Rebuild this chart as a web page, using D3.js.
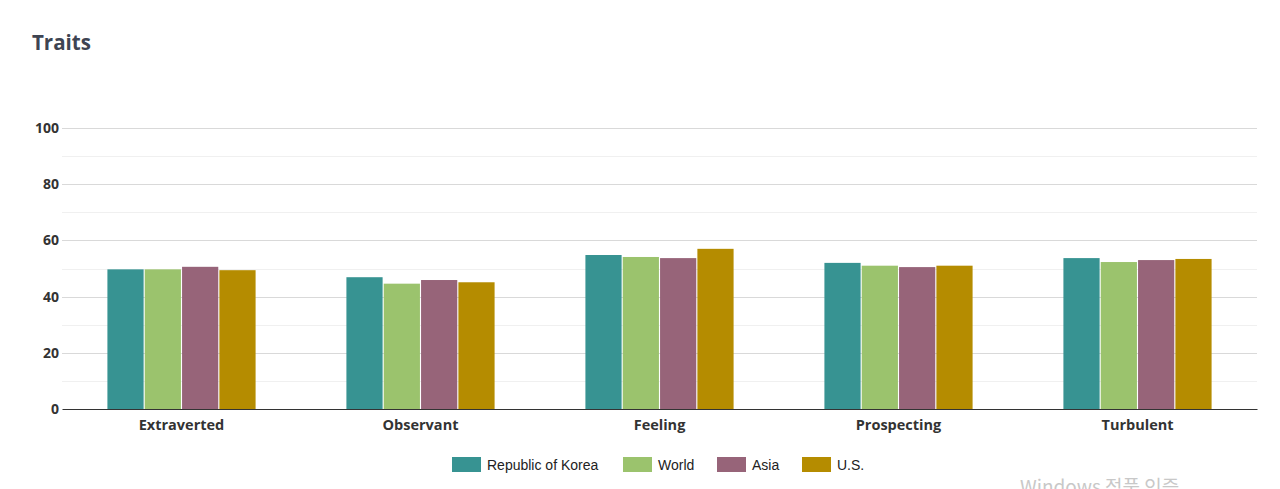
<!DOCTYPE html>
<html><head><meta charset="utf-8">
<script src="https://cdn.jsdelivr.net/npm/d3@7"></script>
<style>body{margin:0;background:#fff;}svg{display:block;}</style>
</head><body>
<svg id="chart" width="1280" height="489"></svg>
<script>
const categories = ["Extraverted","Observant","Feeling","Prospecting","Turbulent"];
const seriesNames = ["Republic of Korea","World","Asia","U.S."];
const korea = [49.7, 46.9, 54.8, 52.0, 53.7];
const world = [49.7, 44.6, 54.1, 51.0, 52.3];
const asia  = [50.6, 45.9, 53.7, 50.5, 53.0];
const us    = [49.4, 45.1, 57.0, 51.0, 53.4];
const yTicks = [0, 20, 40, 60, 80, 100];
const colors = ["#379392", "#9bc36d", "#976479", "#b58c00"];
const seriesValues = [korea, world, asia, us];

(function () {
const svg = d3.select("#chart");
const pLeft = 62, pRight = 1257, pTop = 128, pBottom = 409;

const x = d3.scaleBand().domain(categories).range([pLeft, pRight]).paddingInner(0.38).paddingOuter(0.19);
const xs = d3.scaleBand().domain(seriesNames).range([0, x.bandwidth()]).paddingInner(0.03);
const y = d3.scaleLinear().domain([0, 100]).range([pBottom, pTop]);

// minor grid
svg.append("g").selectAll("line").data(d3.range(10, 100, 20)).join("line")
  .attr("x1", pLeft).attr("x2", pRight)
  .attr("y1", d => Math.round(y(d)) + 0.5).attr("y2", d => Math.round(y(d)) + 0.5)
  .attr("stroke", "#f0f0f0").attr("stroke-width", 1);
// major grid
svg.append("g").selectAll("line").data(yTicks.filter(d => d > 0)).join("line")
  .attr("x1", pLeft).attr("x2", pRight)
  .attr("y1", d => Math.round(y(d)) + 0.5).attr("y2", d => Math.round(y(d)) + 0.5)
  .attr("stroke", "#d9d9d9").attr("stroke-width", 1);

// y axis labels
const yAxis = d3.axisLeft(y).tickValues(yTicks).tickSize(0).tickPadding(3);
const gy = svg.append("g").attr("transform", `translate(${pLeft},0)`).call(yAxis);
gy.select(".domain").remove();
gy.selectAll("text").attr("font-family", "'Open Sans', sans-serif").attr("font-weight", "bold")
  .attr("font-size", 14).attr("fill", "#333");

// bars
const groups = svg.append("g").selectAll("g").data(categories).join("g")
  .attr("transform", d => `translate(${x(d)},0)`);
groups.selectAll("rect").data((c, i) => seriesNames.map((s, j) => ({s, j, v: seriesValues[j][i]}))).join("rect")
  .attr("x", d => xs(d.s)).attr("width", xs.bandwidth())
  .attr("y", d => y(d.v)).attr("height", d => y(0) - y(d.v))
  .attr("fill", d => colors[d.j]);

// x axis
const xAxis = d3.axisBottom(x).tickSize(0).tickPadding(11);
const gx = svg.append("g").attr("transform", `translate(0,${pBottom})`).call(xAxis);
gx.select(".domain").attr("stroke", "#333").attr("stroke-width", 1.2);
gx.selectAll("text").attr("font-family", "'Open Sans', sans-serif").attr("font-weight", "bold")
  .attr("font-size", 14.5).attr("fill", "#333");

// title
svg.append("text").attr("x", 32).attr("y", 50).text("Traits")
  .attr("font-family", "'Open Sans', sans-serif").attr("font-weight", "bold")
  .attr("font-size", 20.5).attr("fill", "#3e4452");

// legend
const legendX = [452, 623, 717, 802];
const lg = svg.append("g").selectAll("g").data(seriesNames).join("g")
  .attr("transform", (d, i) => `translate(${legendX[i]},457)`);
lg.append("rect").attr("width", 29).attr("height", 15).attr("fill", (d, i) => colors[i]);
lg.append("text").attr("x", 35).attr("y", 12.5).text(d => d)
  .attr("font-family", "'Liberation Sans', Arial, sans-serif").attr("font-size", 14).attr("fill", "#222");

// OS watermark present in screenshot (cut off at the bottom edge, as in the reference)
svg.append("text").attr("x", 1020).attr("y", 494).text("Windows 정품 인증")
  .attr("font-family", "'Noto Sans CJK KR', 'Noto Sans', sans-serif").attr("font-size", 19).attr("fill", "#c8c8c8");
})();
</script>
</body></html>
